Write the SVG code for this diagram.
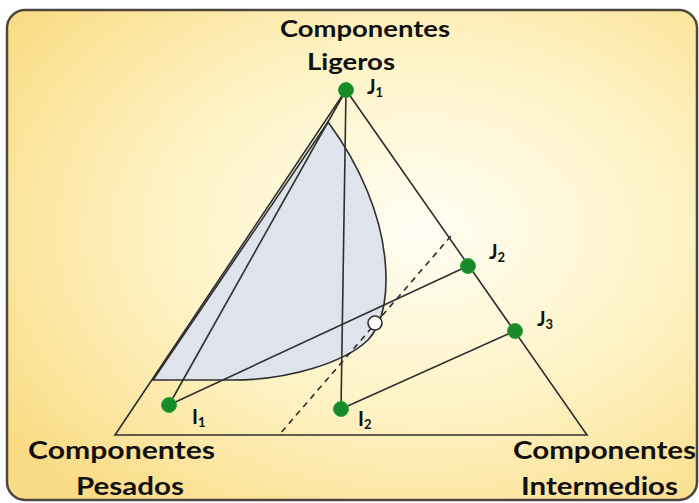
<svg xmlns="http://www.w3.org/2000/svg" width="699" height="503" viewBox="0 0 699 503">
  <defs>
    <radialGradient id="bg" cx="0.6" cy="0.45" r="0.72">
      <stop offset="0" stop-color="#fffdf4"/>
      <stop offset="0.5" stop-color="#fef3c6"/>
      <stop offset="1" stop-color="#fadc86"/>
    </radialGradient>
    <style>
      .ln { stroke: #2e2e2e; stroke-width: 1.6; fill: none; }
      .dash { stroke: #2e2e2e; stroke-width: 1.6; fill: none; stroke-dasharray: 6 5; }
      .dot { fill: #178a2a; stroke: #2aa53c; stroke-width: 1; }
      .lbl { font-family: Lato, "Liberation Sans", sans-serif; font-weight: bold; fill: #111; }
      .big { font-size: 24px; }
      .top { font-size: 22px; }
      .pt { font-size: 20px; }
      .sub { font-size: 13px; }
    </style>
  </defs>

  <rect x="7" y="10" width="690" height="490" rx="18" ry="18" fill="url(#bg)" stroke="#4d4540" stroke-width="2.5"/>

  <g id="shaded-region">
    <path d="M 328,122 L 153,380 L 233,380 C 290,380 345,362 368,340 C 385,322 388,290 385,260 C 381,215 360,165 328,122 Z" fill="#dfe3ec" stroke="#2e2e2e" stroke-width="1.6"/>
  </g>

  <g id="triangle">
    <path class="ln" d="M 346,90 L 115,435 L 587,435 Z"/>
  </g>

  <g id="connectors">
    <line class="ln" x1="346" y1="90" x2="169" y2="405"/>
    <line class="ln" x1="346" y1="90" x2="341" y2="409"/>
    <line class="ln" x1="468" y1="266" x2="169" y2="405"/>
    <line class="ln" x1="515" y1="331" x2="341" y2="409"/>
    <line class="dash" x1="451" y1="236" x2="279" y2="435"/>
  </g>

  <g id="mix-point">
    <circle cx="375" cy="323" r="7" fill="#ffffff" stroke="#2e2e2e" stroke-width="1.6"/>
  </g>

  <g id="J1">
    <circle class="dot" cx="346" cy="90" r="7.5"/>
    <text class="lbl pt" x="367" y="94">J<tspan class="sub" dy="3">1</tspan></text>
  </g>
  <g id="J2">
    <circle class="dot" cx="468" cy="266" r="7.5"/>
    <text class="lbl pt" x="489" y="259">J<tspan class="sub" dy="3">2</tspan></text>
  </g>
  <g id="J3">
    <circle class="dot" cx="515" cy="331" r="7.5"/>
    <text class="lbl pt" x="537" y="326">J<tspan class="sub" dy="3">3</tspan></text>
  </g>
  <g id="I1">
    <circle class="dot" cx="169" cy="405" r="7.5"/>
    <text class="lbl pt" x="192" y="424">I<tspan class="sub" dy="3">1</tspan></text>
  </g>
  <g id="I2">
    <circle class="dot" cx="341" cy="409" r="7.5"/>
    <text class="lbl pt" x="358" y="426">I<tspan class="sub" dy="3">2</tspan></text>
  </g>

  <g id="label-ligeros">
    <text class="lbl top" x="280" y="37" textLength="170" lengthAdjust="spacingAndGlyphs">Componentes</text>
    <text class="lbl top" x="307" y="70" textLength="88" lengthAdjust="spacingAndGlyphs">Ligeros</text>
  </g>
  <g id="label-pesados">
    <text class="lbl big" x="28" y="459" textLength="187" lengthAdjust="spacingAndGlyphs">Componentes</text>
    <text class="lbl big" x="76" y="495" textLength="108" lengthAdjust="spacingAndGlyphs">Pesados</text>
  </g>
  <g id="label-intermedios">
    <text class="lbl big" x="513" y="459" textLength="183" lengthAdjust="spacingAndGlyphs">Componentes</text>
    <text class="lbl big" x="521" y="495" textLength="157" lengthAdjust="spacingAndGlyphs">Intermedios</text>
  </g>
</svg>
